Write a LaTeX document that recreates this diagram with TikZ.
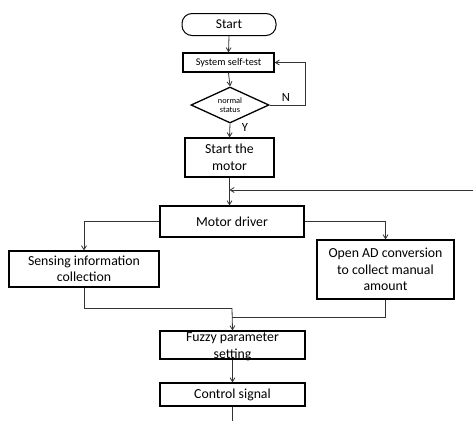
\documentclass[tikz,border=0pt]{standalone}
\usepackage{fontspec}
\setmainfont{Carlito}
\usetikzlibrary{arrows.meta,shapes.geometric}
\begin{document}
\begin{tikzpicture}[x=1pt,y=-1pt,
  box/.style={draw=black,line width=1.3pt,inner sep=0pt,align=center,font=\fontsize{13.8}{16.5}\selectfont},
  txt/.style={inner sep=0pt,align=center,font=\fontsize{13.8}{16.5}\selectfont},
  conn/.style={draw=black!80,line width=0.8pt},
  arr/.style={conn,-{Straight Barb[length=4pt,width=5pt]}},
  lbl/.style={font=\fontsize{12.5}{14}\selectfont}]
\useasboundingbox (0,0) rectangle (473,421);
\node[box,rounded corners=10pt,line width=1pt,minimum width=94pt,minimum height=22pt,font=\fontsize{13.5}{15}\selectfont] (start) at (229,24.5) {Start};
\node[box,minimum width=91pt,minimum height=19pt,font=\fontsize{10.3}{12}\selectfont] (self) at (228.5,62.5) {System self-test};
\node[draw=black,line width=1.3pt,diamond,aspect=2.17,inner sep=0pt,minimum width=78pt,minimum height=36pt,align=center,font=\fontsize{8.3}{9.5}\selectfont] (dia) at (230,105) {normal\\status};
\node[box,minimum width=89pt,minimum height=39pt] (motor) at (229.5,157.5) {Start the\\motor};
\node[box,minimum width=144pt,minimum height=31pt] (driver) at (232,221.5) {Motor driver};
\node[box,minimum width=150pt,minimum height=36pt] (sense) at (84,269) {Sensing information\\collection};
\node[box,minimum width=137pt,minimum height=59pt] (ad) at (385.5,269.5) {Open AD conversion\\to collect manual\\amount};
\node[box,minimum width=145pt,minimum height=28pt] (fuzzy) at (232.5,345) {};
\node[txt] (fuzzyt) at (232.5,346.5) {Fuzzy parameter\\setting};
\node[box,minimum width=145pt,minimum height=23pt] (ctrl) at (232.5,394.5) {Control signal};
\node[lbl] (nlab) at (286,97) {N};
\node[lbl] (ylab) at (245,127) {Y};
\coordinate (fbin) at (473,190);
\coordinate (m1) at (232,308);
\coordinate (m2) at (232,317);
\coordinate (fin) at (232.5,421);
\draw[arr] (start.south) -- (self.north);
\draw[arr] (self.south) -- (dia.north);
\draw[arr] (dia.east) -- (305,105) |- (self.east);
\draw[arr] (dia.south) -- (motor.north);
\draw[arr] (motor.south) -- (motor.south |- driver.north);
\draw[arr] (fbin) -- (motor.south |- fbin);
\draw[arr] (driver.east) -| (ad.north);
\draw[arr] (driver.west) -| (sense.north);
\draw[conn] (sense.south) |- (m1);
\draw[conn] (ad.south) |- (m2);
\draw[arr] (m1) -- (fuzzy.north);
\draw[arr] (fuzzy.south) -- (ctrl.north);
\draw[conn] (ctrl.south) -- (fin);
\end{tikzpicture}
\end{document}
